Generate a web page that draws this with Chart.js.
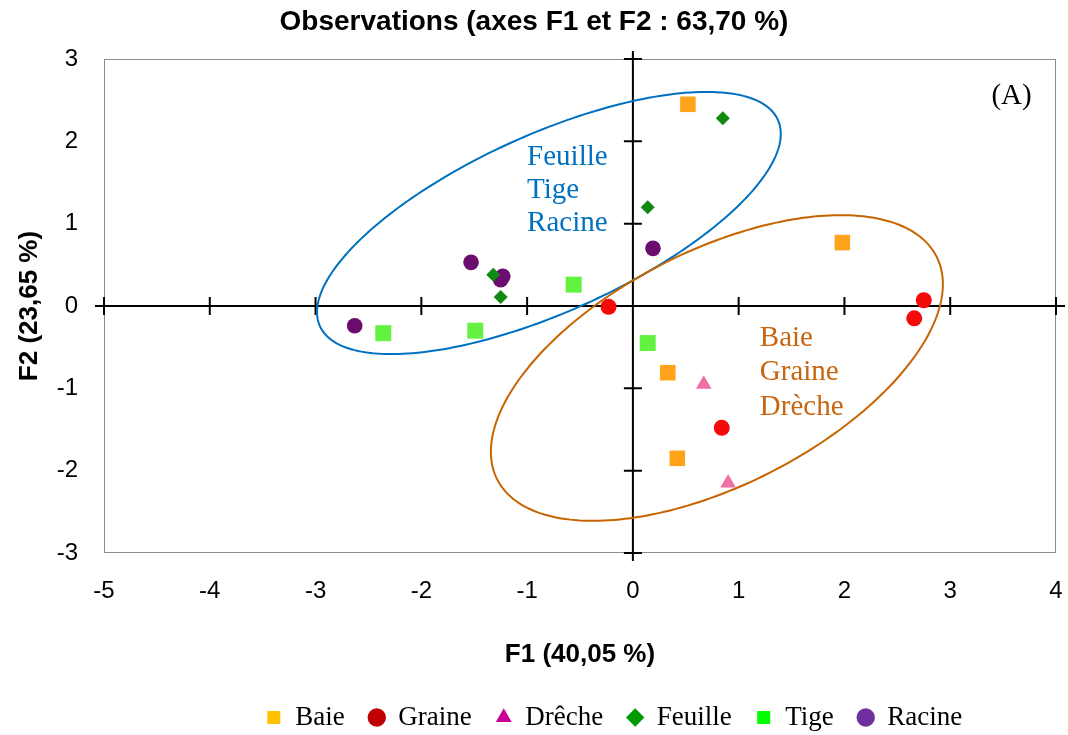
<!DOCTYPE html>
<html>
<head>
<meta charset="utf-8">
<script src="https://cdn.jsdelivr.net/npm/chart.js@4.4.0/dist/chart.umd.min.js"></script>
<style>
  body { margin: 0; background: #fff; }
</style>
</head>
<body>
<canvas id="chart" width="1068" height="735"></canvas>
<script>
// observations (F1, F2)
const groups = ['Baie', 'Graine', 'Drêche', 'Feuille', 'Tige', 'Racine'];
const baieX = [0.52, 1.98, 0.33, 0.42];
const baieY = [2.45, 0.77, -0.81, -1.85];
const graineX = [-0.23, 2.75, 2.66, 0.84];
const graineY = [-0.01, 0.07, -0.15, -1.48];
const drecheX = [0.67, 0.90];
const drecheY = [-0.95, -2.15];
const feuilleX = [0.85, 0.14, -1.25, -1.32];
const feuilleY = [2.28, 1.20, 0.11, 0.38];
const tigeX = [-0.56, -2.36, -1.49, 0.14];
const tigeY = [0.26, -0.33, -0.30, -0.45];
const racineX = [0.19, -1.53, -1.23, -1.25, -2.63];
const racineY = [0.70, 0.53, 0.36, 0.32, -0.24];

const xTickValues = [-5, -4, -3, -2, -1, 0, 1, 2, 3, 4];
const yTickValues = [-3, -2, -1, 0, 1, 2, 3];

// ellipses: centre, first and second semi-diameters (data units)
const blueEllipse = [-0.794, 1.008, 2.165, 1.252, -0.344, 0.984];
const orangeEllipse = [0.794, -0.753, 2.077, 1.353, -0.501, 1.271];
const blueLabels = ['Feuille', 'Tige', 'Racine'];
const orangeLabels = ['Baie', 'Graine', 'Drèche'];

const pointColors = ['#FFA31A', '#F50A0A', '#F06FA5', '#108A10', '#63F23F', '#6A0D6E'];
const legendColors = ['#FFC000', '#C00000', '#CC0099', '#009900', '#00FF00', '#7030A0'];
const pointStyles = ['rect', 'circle', 'triangle', 'rectRot', 'rect', 'circle'];
const pointSizes = [11, 8, 9, 7, 11.3, 7.8];

const zip = (xs, ys) => xs.map((v, i) => ({ x: v, y: ys[i] }));
const series = [
  zip(baieX, baieY),
  zip(graineX, graineY),
  zip(drecheX, drecheY),
  zip(feuilleX, feuilleY),
  zip(tigeX, tigeY),
  zip(racineX, racineY),
];

const serif = "'Liberation Serif', 'Times New Roman', serif";
const sans = "'Liberation Sans', Arial, sans-serif";

function drawEllipse(ctx, xs, ys, e, color) {
  const [cx, cy, ux, uy, vx, vy] = e;
  ctx.beginPath();
  for (let i = 0; i <= 240; i++) {
    const t = (i / 240) * Math.PI * 2;
    const px = xs.getPixelForValue(cx + ux * Math.cos(t) + vx * Math.sin(t));
    const py = ys.getPixelForValue(cy + uy * Math.cos(t) + vy * Math.sin(t));
    i === 0 ? ctx.moveTo(px, py) : ctx.lineTo(px, py);
  }
  ctx.closePath();
  ctx.strokeStyle = color;
  ctx.lineWidth = 2;
  ctx.stroke();
}

const decor = {
  id: 'decor',
  afterLayout(chart) {
    // legend sits right of the canvas centre in the original
    const lg = chart.legend;
    lg.left += 80;
    lg.right += 80;
    lg.top += 6;
    lg.bottom += 6;
  },
  beforeDatasetsDraw(chart) {
    const { ctx, chartArea: a } = chart;
    const xs = chart.scales.x;
    const ys = chart.scales.y;
    ctx.save();
    ctx.strokeStyle = '#8c8c8c';
    ctx.lineWidth = 1;
    ctx.strokeRect(a.left + 0.5, a.top + 0.5, a.width - 1, a.height - 1);

    const x0 = xs.getPixelForValue(0);
    const y0 = ys.getPixelForValue(0);
    ctx.strokeStyle = '#000';
    ctx.lineWidth = 2;
    ctx.beginPath();
    ctx.moveTo(a.left - 9, y0);
    ctx.lineTo(a.right + 9, y0);
    ctx.moveTo(x0, a.top - 8);
    ctx.lineTo(x0, a.bottom + 8);
    xTickValues.forEach((v) => {
      const px = xs.getPixelForValue(v);
      ctx.moveTo(px, y0 - 9);
      ctx.lineTo(px, y0 + 9);
    });
    yTickValues.forEach((v) => {
      const py = ys.getPixelForValue(v);
      ctx.moveTo(x0 - 9, py);
      ctx.lineTo(x0 + 9, py);
    });
    ctx.stroke();

    drawEllipse(ctx, xs, ys, blueEllipse, '#0070C0');
    drawEllipse(ctx, xs, ys, orangeEllipse, '#C86400');
    ctx.restore();
  },
  afterDatasetsDraw(chart) {
    const { ctx } = chart;
    const xs = chart.scales.x;
    const ys = chart.scales.y;
    ctx.save();
    ctx.font = '29px ' + serif;
    ctx.textBaseline = 'middle';
    ctx.textAlign = 'left';
    ctx.fillStyle = '#0070C0';
    blueLabels.forEach((t, i) => {
      ctx.fillText(t, xs.getPixelForValue(-1.0), ys.getPixelForValue(1.8) + i * 33);
    });
    ctx.fillStyle = '#C8650F';
    orangeLabels.forEach((t, i) => {
      ctx.fillText(t, xs.getPixelForValue(1.2), ys.getPixelForValue(-0.39) + i * 34.5);
    });
    ctx.fillStyle = '#000';
    ctx.textAlign = 'right';
    ctx.fillText('(A)', xs.getPixelForValue(3.77), ys.getPixelForValue(2.55));
    ctx.restore();
  },
};

new Chart(document.getElementById('chart'), {
  type: 'scatter',
  plugins: [decor],
  data: {
    datasets: series.map((pts, i) => ({
      label: groups[i],
      data: pts,
      pointStyle: pointStyles[i],
      pointRadius: pointSizes[i],
      pointHoverRadius: pointSizes[i],
      backgroundColor: pointColors[i],
      borderColor: pointColors[i],
      borderWidth: 0,
    })),
  },
  options: {
    responsive: false,
    animation: false,
    layout: { padding: 0 },
    plugins: {
      title: {
        display: true,
        text: 'Observations (axes F1 et F2 : 63,70 %)',
        color: '#000',
        font: { family: sans, size: 28, weight: 'bold' },
        padding: { top: 5, bottom: 20.4 },
      },
      legend: {
        position: 'bottom',
        labels: {
          usePointStyle: true,
          boxWidth: 16,
          boxHeight: 13,
          padding: 24,
          color: '#000',
          font: { family: serif, size: 27 },
          generateLabels: (chart) =>
            chart.data.datasets.map((ds, i) => ({
              text: ds.label,
              fillStyle: legendColors[i],
              strokeStyle: legendColors[i],
              lineWidth: 0,
              pointStyle: ds.pointStyle,
              hidden: false,
              datasetIndex: i,
            })),
        },
      },
      tooltip: { enabled: false },
    },
    scales: {
      x: {
        type: 'linear',
        min: -5,
        max: 4,
        afterBuildTicks: (scale) => {
          scale.ticks = xTickValues.map((v) => ({ value: v }));
        },
        afterFit: (scale) => {
          scale.height = 121;
          scale.paddingLeft = 0;
          scale.paddingRight = 12;
        },
        grid: { display: false, drawTicks: false },
        border: { display: false },
        ticks: { color: '#000', padding: 24, font: { family: sans, size: 24 } },
        title: {
          display: true,
          text: 'F1 (40,05 %)',
          color: '#000',
          font: { family: sans, size: 26, weight: 'bold' },
          padding: { top: 0, bottom: 3.4 },
        },
      },
      y: {
        type: 'linear',
        min: -3,
        max: 3,
        afterBuildTicks: (scale) => {
          scale.ticks = yTickValues.map((v) => ({ value: v }));
        },
        afterFit: (scale) => {
          scale.width = 104;
        },
        grid: { display: false, drawTicks: false },
        border: { display: false },
        ticks: { color: '#000', padding: 26, font: { family: sans, size: 24 } },
        title: {
          display: true,
          text: 'F2 (23,65 %)',
          color: '#000',
          font: { family: sans, size: 26, weight: 'bold' },
          padding: { top: 14.4, bottom: 0 },
        },
      },
    },
  },
});
</script>
</body>
</html>
